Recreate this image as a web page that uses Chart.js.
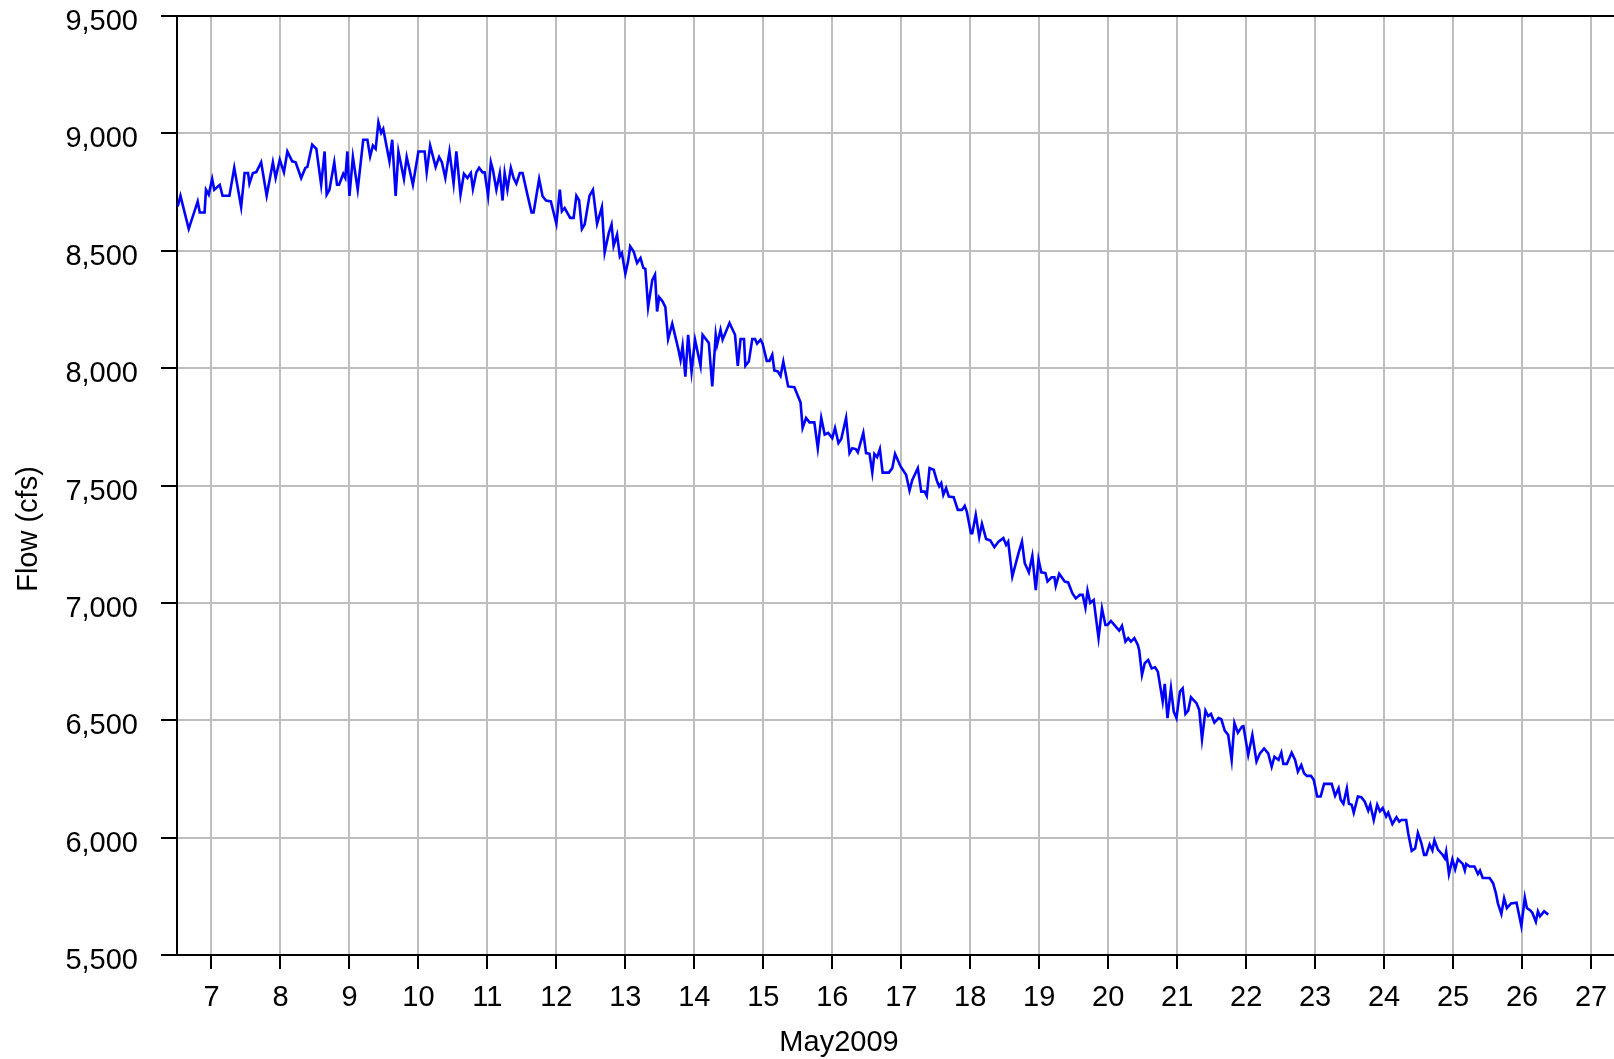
<!DOCTYPE html>
<html>
<head>
<meta charset="utf-8">
<title>Flow (cfs), May 2009</title>
<script src="https://cdn.jsdelivr.net/npm/chart.js@4.4.1/dist/chart.umd.min.js"></script>
<style>
  html, body { margin: 0; padding: 0; background: #fff; }
  #wrap { width: 1614px; height: 1059px; }
</style>
</head>
<body>
<div id="wrap"><canvas id="flow-chart" width="1614" height="1059"></canvas></div>
<script>
// Day of May 2009 (fractional)
const days = [
  6.51, 6.55, 6.67, 6.80, 6.83, 6.90, 6.92, 6.96, 7.01, 7.04, 7.12, 7.16, 7.26, 7.33, 7.43, 7.48,
  7.53, 7.55, 7.60, 7.65, 7.72, 7.80, 7.89, 7.93, 7.99, 8.05, 8.10, 8.17, 8.22, 8.30, 8.36, 8.39,
  8.46, 8.52, 8.59, 8.64, 8.67, 8.71, 8.78, 8.82, 8.85, 8.91, 8.94, 8.97, 9.00, 9.05, 9.12, 9.20,
  9.26, 9.30, 9.34, 9.38, 9.42, 9.46, 9.49, 9.58, 9.62, 9.67, 9.71, 9.79, 9.83, 9.92, 10.00, 10.09,
  10.12, 10.17, 10.25, 10.30, 10.34, 10.39, 10.45, 10.51, 10.55, 10.61, 10.66, 10.71, 10.76, 10.79,
  10.84, 10.88, 10.93, 10.96, 11.01, 11.05, 11.08, 11.13, 11.18, 11.22, 11.25, 11.29, 11.34, 11.38,
  11.42, 11.47, 11.51, 11.58, 11.64, 11.67, 11.75, 11.80, 11.85, 11.92, 12.00, 12.05, 12.08, 12.12,
  12.20, 12.25, 12.29, 12.33, 12.37, 12.41, 12.48, 12.53, 12.59, 12.66, 12.70, 12.76, 12.80, 12.83,
  12.88, 12.92, 12.95, 13.00, 13.04, 13.07, 13.12, 13.17, 13.22, 13.26, 13.29, 13.33, 13.39, 13.43,
  13.46, 13.49, 13.54, 13.58, 13.62, 13.68, 13.73, 13.77, 13.80, 13.83, 13.87, 13.91, 13.96, 14.01,
  14.09, 14.12, 14.21, 14.26, 14.31, 14.33, 14.38, 14.41, 14.51, 14.59, 14.63, 14.67, 14.72, 14.74,
  14.79, 14.84, 14.88, 14.91, 14.96, 14.99, 15.05, 15.09, 15.13, 15.16, 15.21, 15.25, 15.29, 15.36,
  15.45, 15.54, 15.57, 15.62, 15.67, 15.74, 15.79, 15.84, 15.89, 15.94, 16.00, 16.04, 16.09, 16.13,
  16.20, 16.25, 16.29, 16.34, 16.37, 16.45, 16.49, 16.54, 16.58, 16.61, 16.65, 16.69, 16.73, 16.82,
  16.87, 16.91, 16.99, 17.07, 17.12, 17.16, 17.24, 17.29, 17.34, 17.37, 17.41, 17.47, 17.52, 17.55,
  17.58, 17.61, 17.65, 17.69, 17.76, 17.82, 17.88, 17.92, 17.95, 18.01, 18.03, 18.08, 18.13, 18.17,
  18.23, 18.29, 18.35, 18.41, 18.48, 18.52, 18.55, 18.61, 18.70, 18.75, 18.79, 18.85, 18.90, 18.95,
  18.99, 19.03, 19.09, 19.12, 19.18, 19.22, 19.24, 19.29, 19.37, 19.42, 19.48, 19.53, 19.59, 19.63,
  19.67, 19.70, 19.74, 19.79, 19.86, 19.91, 19.96, 19.99, 20.04, 20.11, 20.16, 20.20, 20.25, 20.29,
  20.33, 20.38, 20.43, 20.45, 20.49, 20.53, 20.58, 20.63, 20.68, 20.72, 20.79, 20.82, 20.86, 20.91,
  20.95, 20.99, 21.04, 21.08, 21.12, 21.16, 21.20, 21.28, 21.32, 21.36, 21.41, 21.45, 21.49, 21.54,
  21.60, 21.64, 21.69, 21.74, 21.79, 21.83, 21.88, 21.94, 21.96, 22.03, 22.09, 22.15, 22.20, 22.26,
  22.32, 22.37, 22.41, 22.47, 22.51, 22.54, 22.59, 22.66, 22.71, 22.75, 22.80, 22.84, 22.88, 22.94,
  22.98, 23.03, 23.08, 23.13, 23.24, 23.29, 23.34, 23.37, 23.41, 23.46, 23.49, 23.53, 23.56, 23.62,
  23.67, 23.72, 23.77, 23.80, 23.85, 23.90, 23.94, 23.98, 24.03, 24.06, 24.12, 24.18, 24.22, 24.25,
  24.32, 24.35, 24.40, 24.45, 24.49, 24.54, 24.58, 24.61, 24.66, 24.70, 24.73, 24.78, 24.85, 24.88,
  24.90, 24.94, 24.99, 25.03, 25.07, 25.14, 25.17, 25.19, 25.24, 25.31, 25.36, 25.39, 25.43, 25.53,
  25.58, 25.62, 25.65, 25.70, 25.74, 25.78, 25.84, 25.92, 25.99, 26.04, 26.07, 26.12, 26.15, 26.20,
  26.23, 26.26, 26.32, 26.38
];

// Flow in cfs, one value per entry of days
const flow = [
  8689, 8734, 8593, 8710, 8663, 8663, 8760, 8739, 8806, 8760, 8781, 8734, 8734, 8853, 8686, 8831,
  8831, 8786, 8831, 8835, 8877, 8734, 8877, 8810, 8888, 8834, 8923, 8881, 8877, 8810, 8853, 8857,
  8952, 8934, 8781, 8923, 8739, 8760, 8877, 8781, 8781, 8828, 8810, 8923, 8734, 8899, 8760, 8973,
  8973, 8902, 8948, 8934, 9047, 9002, 9019, 8881, 8973, 8734, 8923, 8806, 8899, 8781, 8923, 8923,
  8834, 8948, 8857, 8899, 8877, 8810, 8923, 8786, 8923, 8739, 8828, 8810, 8831, 8763,
  8834, 8853, 8834, 8834, 8734, 8877, 8845, 8760, 8831, 8714, 8831, 8760, 8853, 8810,
  8786, 8831, 8831, 8739, 8663, 8663, 8806, 8732, 8714, 8710, 8615, 8760, 8668, 8682,
  8640, 8640, 8734, 8714, 8593, 8612, 8734, 8760, 8615, 8686, 8493, 8576, 8612, 8521,
  8569, 8476, 8490, 8402, 8455, 8519, 8497, 8448, 8469, 8427, 8423, 8260, 8375, 8398,
  8241, 8302, 8284, 8260, 8124, 8189, 8128, 8078, 8035, 8095, 7964, 8142, 7985, 8121,
  8010, 8142, 8107, 7922, 8142, 8099, 8163, 8121, 8192, 8142, 8010, 8124, 8124, 8010,
  8028, 8124, 8124, 8104, 8121, 8104, 8031, 8031, 8057, 7990, 7986, 7967, 8028, 7922,
  7919, 7854, 7745, 7788, 7769, 7769, 7659, 7788, 7717, 7724, 7702, 7745, 7681, 7698,
  7788, 7638, 7659, 7655, 7641, 7724, 7638, 7635, 7555, 7635, 7621, 7655, 7555, 7555,
  7574, 7635, 7581, 7546, 7479, 7524, 7574, 7474, 7474, 7456, 7574, 7567, 7517, 7496,
  7510, 7460, 7489, 7453, 7450, 7396, 7396, 7413, 7389, 7297, 7297, 7375, 7280, 7337,
  7272, 7266, 7237, 7261, 7276, 7247, 7261, 7112, 7212, 7261, 7169, 7130, 7200, 7054,
  7185, 7130, 7127, 7091, 7109, 7109, 7072, 7124, 7091, 7087, 7041, 7019, 7034, 7034,
  6980, 7052, 7000, 7012, 6850, 6976, 6906, 6906, 6923, 6899, 6882, 6902, 6835, 6850,
  6835, 6850, 6821, 6797, 6693, 6743, 6757, 6721, 6726, 6707, 6580, 6655, 6509, 6636,
  6537, 6509, 6622, 6636, 6527, 6541, 6598, 6573, 6544, 6419, 6541, 6518, 6527, 6490,
  6509, 6504, 6456, 6437, 6331, 6488, 6447, 6473, 6475, 6352, 6437, 6324, 6359, 6380,
  6359, 6302, 6345, 6331, 6362, 6314, 6314, 6362, 6331, 6281, 6309, 6274, 6263, 6263,
  6246, 6175, 6175, 6229, 6229, 6178, 6210, 6161, 6144, 6210, 6144, 6140, 6106, 6175,
  6172, 6153, 6115, 6140, 6075, 6140, 6112, 6126, 6090, 6106, 6058, 6087, 6068, 6075,
  6075, 6018, 5944, 5954, 6020, 5977, 5926, 5926, 5971, 5946, 5989, 5949, 5926, 5912,
  5940, 5845, 5908, 5865, 5908, 5888, 5860, 5888, 5877, 5877, 5845, 5860, 5828, 5828,
  5806, 5764, 5720, 5675, 5742, 5700, 5720, 5723, 5624, 5745, 5700, 5690, 5679, 5642,
  5686, 5665, 5686, 5672
];

// Tick labels
const xTicks = [7, 8, 9, 10, 11, 12, 13, 14, 15, 16, 17, 18, 19, 20, 21, 22, 23, 24, 25, 26, 27];
const yTicks = [5500, 6000, 6500, 7000, 7500, 8000, 8500, 9000, 9500];

const FONT = '"Liberation Sans", Arial, Helvetica, sans-serif';
const GRID = '#bebebe';

Chart.defaults.font.family = FONT;
Chart.defaults.color = '#000';

const points = days.map((d, i) => ({ x: d, y: flow[i] }));

// top frame line + the two axis titles (placed where the original has them)
const framePlugin = {
  id: 'frame',
  afterDraw(chart) {
    const { ctx, chartArea } = chart;
    ctx.save();
    ctx.strokeStyle = '#000';
    ctx.lineWidth = 2;
    ctx.beginPath();
    ctx.moveTo(chartArea.left - 1, chartArea.top);
    ctx.lineTo(chart.width, chartArea.top);
    ctx.stroke();

    ctx.fillStyle = '#000';
    ctx.font = '29px ' + FONT;
    ctx.textAlign = 'center';
    ctx.textBaseline = 'middle';
    ctx.fillText('May2009', 839, 1043);

    ctx.translate(29, 529);
    ctx.rotate(-Math.PI / 2);
    ctx.fillText('Flow (cfs)', 0, 0);
    ctx.restore();
  },
};

const ctx = document.getElementById('flow-chart').getContext('2d');

const flowChart = new Chart(ctx, {
  type: 'line',
  data: {
    datasets: [
      {
        label: 'Flow (cfs)',
        data: points,
        borderColor: '#0000ff',
        borderWidth: 2.6,
        pointRadius: 0,
        tension: 0,
        fill: false,
      },
    ],
  },
  options: {
    responsive: false,
    animation: false,
    devicePixelRatio: 1,
    layout: { padding: { top: 16, right: 0, bottom: 0, left: 0 } },
    plugins: {
      legend: { display: false },
      tooltip: { enabled: false },
    },
    scales: {
      x: {
        type: 'linear',
        position: 'bottom',
        min: 6.5,
        max: 27.333,
        afterBuildTicks: (scale) => {
          scale.ticks = xTicks.map((v) => ({ value: v }));
        },
        afterFit: (scale) => {
          scale.height = 104;
          scale.paddingLeft = 0;
          scale.paddingRight = 0;
        },
        ticks: {
          font: { size: 29 },
          color: '#000',
          padding: 12,
          maxRotation: 0,
          autoSkip: false,
          callback: (v) => String(v),
        },
        grid: {
          color: GRID,
          lineWidth: 2,
          tickColor: '#000',
          tickLength: 14,
          tickWidth: 2,
        },
        border: { color: '#000', width: 2 },
      },
      y: {
        type: 'linear',
        min: 5500,
        max: 9500,
        afterBuildTicks: (scale) => {
          scale.ticks = yTicks.map((v) => ({ value: v }));
        },
        afterFit: (scale) => {
          scale.width = 177;
          scale.paddingTop = 0;
          scale.paddingBottom = 0;
        },
        ticks: {
          font: { size: 29 },
          color: '#000',
          padding: 23,
          labelOffset: 6,
          callback: (v) => v.toLocaleString('en-US'),
        },
        grid: {
          color: GRID,
          lineWidth: 2,
          tickColor: '#000',
          tickLength: 16,
          tickWidth: 2,
        },
        border: { color: '#000', width: 2 },
      },
    },
  },
  plugins: [framePlugin],
});
</script>
</body>
</html>
